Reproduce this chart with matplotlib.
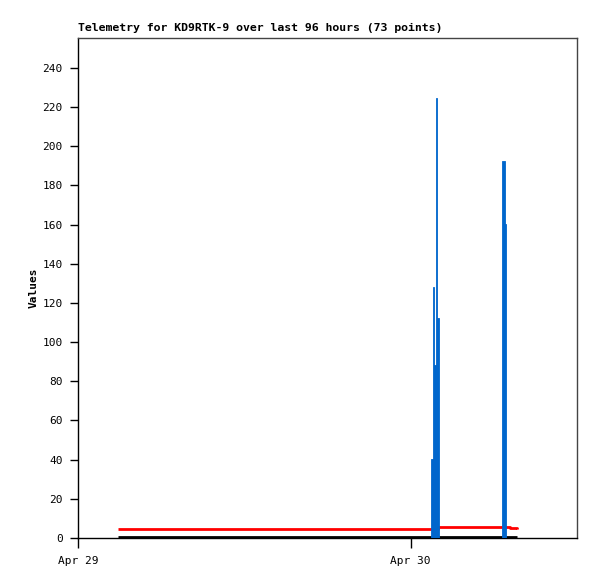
import matplotlib
matplotlib.use("Agg")
import matplotlib.pyplot as plt
import numpy as np

# hours since Apr 29 00:00
bar_times = [25.47, 25.58, 25.71, 25.80, 25.93, 30.62, 30.80]
bar_values = [40.3, 128.2, 88.4, 224.7, 112.4, 192.5, 160.4]
bar_end = [26.02, 30.90]  # end of each cluster

red_times = [2.9, 25.5, 26.0, 30.9, 31.2, 31.66]
red_values = [4.6, 4.6, 5.8, 5.8, 5.3, 4.6]

black_times = [2.9, 31.66]
black_values = [0.4, 0.4]

xtick_pos = [0, 24]
xtick_labels = ["Apr 29", "Apr 30"]
yticks = list(range(0, 241, 20))

title = "Telemetry for KD9RTK-9 over last 96 hours (73 points)"

font = "DejaVu Sans Mono"
fig = plt.figure(figsize=(5.97, 5.79), dpi=100)
ax = fig.add_axes([78/597, 1-538/579, (577-78)/597, (538-38)/579])

# bar widths: up to next bar, or cluster end
widths = []
ends_iter = iter(bar_end)
for i, t in enumerate(bar_times):
    if i + 1 < len(bar_times) and bar_times[i+1] - t < 1.0:
        widths.append(bar_times[i+1] - t)
    else:
        widths.append(next(ends_iter) - t)

ax.plot(black_times, black_values, color="black", lw=2, solid_capstyle="butt", zorder=2)
ax.plot(red_times, red_values, color="#ff0000", lw=2.0, drawstyle="steps-post", solid_capstyle="butt", zorder=2)
ax.bar(bar_times, bar_values, width=widths, align="edge", color="#0066cc",
       edgecolor="#0066cc", linewidth=0.6, zorder=3)

ax.set_xlim(0, 36)
ax.set_ylim(0, 255.3)
ax.set_xticks(xtick_pos)
ax.set_xticklabels(xtick_labels, fontfamily=font, fontsize=8)
ax.set_yticks(yticks)
ax.set_yticklabels([str(v) for v in yticks], fontfamily=font, fontsize=8)
ax.tick_params(axis="y", direction="out", length=6, width=1, pad=5)
ax.tick_params(axis="x", direction="out", length=7, width=1, pad=6)
ax.tick_params(top=False, right=False)

for s in ["top", "right"]:
    ax.spines[s].set_color("#444444")
for s in ["left", "bottom"]:
    ax.spines[s].set_color("black")
for s in ax.spines.values():
    s.set_linewidth(1)

ax.set_ylabel("Values", fontfamily=font, fontsize=8, fontweight="bold", labelpad=3)
fig.text(78/597, 1-31/579, title, fontfamily=font, fontsize=8.25, fontweight="bold", ha="left", va="baseline")

fig.savefig("out.png", dpi=100)
